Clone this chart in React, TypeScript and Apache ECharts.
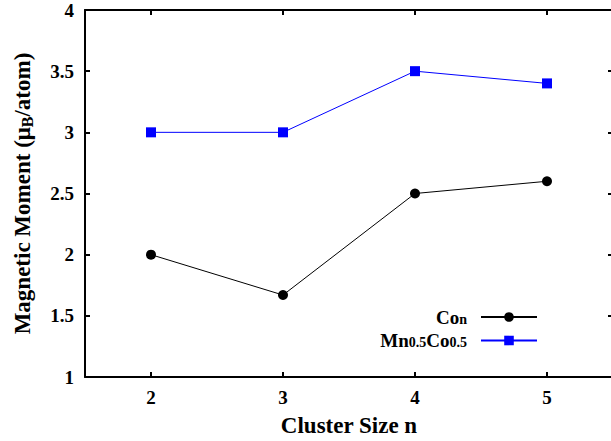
import React, { useEffect, useRef } from "react";
import * as echarts from "echarts";

const clusterSizes = ["2", "3", "4", "5"];
const coValues = [2.0, 1.67, 2.5, 2.6];
const mnCoValues = [3.0, 3.0, 3.5, 3.4];
const yTicks = { min: 1, max: 4, interval: 0.5 };

const FONT = "Liberation Serif";

export default function App() {
  const ref = useRef<HTMLDivElement>(null);
  useEffect(() => {
    if (!ref.current) return;
    const chart = echarts.init(ref.current, undefined, { renderer: "svg" });
    const axisLine = { show: true, lineStyle: { color: "#000", width: 2 } };
    const tick = { show: true, inside: true, length: 5, lineStyle: { color: "#000", width: 2 } };
    const labelStyle = { fontFamily: FONT, fontWeight: "bold" as const, fontSize: 19, color: "#000" };
    chart.setOption({
      animation: false,
      backgroundColor: "#fff",
      grid: { left: 85, top: 10, width: 528, height: 367, containLabel: false, outerBoundsMode: "none" },
      xAxis: [
        {
          type: "category",
          data: clusterSizes,
          position: "bottom",
          boundaryGap: true,
          axisLine,
          axisTick: { ...tick, alignWithLabel: true },
          axisLabel: { ...labelStyle, margin: 11 },
          splitLine: { show: false },
          name: "Cluster Size n",
          nameLocation: "middle",
          nameGap: 37,
          nameTextStyle: { fontFamily: FONT, fontWeight: "bold", fontSize: 23, color: "#000" },
        },
        {
          type: "category",
          data: clusterSizes,
          position: "top",
          boundaryGap: true,
          axisLine,
          axisTick: { ...tick, alignWithLabel: true },
          axisLabel: { show: false },
          splitLine: { show: false },
        },
      ],
      yAxis: [
        {
          type: "value",
          position: "left",
          ...yTicks,
          axisLine,
          axisTick: tick,
          axisLabel: { ...labelStyle, margin: 11 },
          splitLine: { show: false },
          name: "{b|Magnetic Moment (μ}{s|B}{b|/atom)}",
          nameLocation: "middle",
          nameGap: 50,
          nameTextStyle: {
            rich: {
              b: { fontFamily: FONT, fontWeight: "bold", fontSize: 23, color: "#000", lineHeight: 26, verticalAlign: "middle" },
              s: { fontFamily: FONT, fontWeight: "bold", fontSize: 16, color: "#000", lineHeight: 26, verticalAlign: "bottom", padding: [9, 0, 0, 0] },
            },
          },
        },
        {
          type: "value",
          position: "right",
          ...yTicks,
          axisLine,
          axisTick: tick,
          axisLabel: { show: false },
          splitLine: { show: false },
        },
      ],
      legend: {
        orient: "vertical",
        right: 73,
        top: 304,
        padding: 0,
        align: "right",
        itemWidth: 56,
        itemHeight: 12,
        itemGap: 1,
        data: ["Co", "MnCo"],
        formatter: (name: string) =>
          name === "Co" ? "{b|Co}{s|n}" : "{b|Mn}{s|0.5}{b|Co}{s|0.5}",
        textStyle: {
          padding: [0, 9, 0, 0],
          rich: {
            b: { fontFamily: FONT, fontWeight: "bold", fontSize: 19, color: "#000", lineHeight: 18, verticalAlign: "middle" },
            s: { fontFamily: FONT, fontWeight: "bold", fontSize: 14, color: "#000", lineHeight: 18, verticalAlign: "bottom", padding: [8, 0, 0, 0] },
          },
        },
      },
      series: [
        {
          name: "Co",
          type: "line",
          data: coValues,
          symbol: "circle",
          symbolSize: 10,
          itemStyle: { color: "#000" },
          lineStyle: { color: "#000", width: 1 },
        },
        {
          name: "MnCo",
          type: "line",
          data: mnCoValues,
          symbol: "rect",
          symbolSize: 10,
          itemStyle: { color: "#0000ff" },
          lineStyle: { color: "#0000ff", width: 1 },
        },
      ],
    });
    return () => chart.dispose();
  }, []);
  return <div ref={ref} style={{ width: 611, height: 441, position: "absolute", left: 0, top: 0 }} />;
}
